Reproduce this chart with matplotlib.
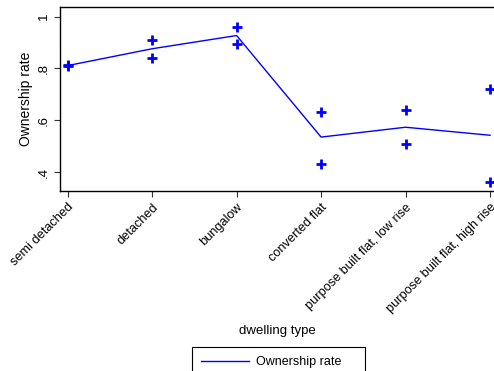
import matplotlib
matplotlib.use("Agg")
import matplotlib.pyplot as plt

dwelling = ["semi detached", "detached", "bungalow", "converted flat",
            "purpose built flat, low rise", "purpose built flat, high rise"]
ownership_rate = [0.811, 0.876, 0.927, 0.535, 0.573, 0.542]
upper_points = [0.812, 0.910, 0.959, 0.633, 0.641, 0.722]
lower_points = [0.810, 0.840, 0.894, 0.433, 0.507, 0.363]
yticks = [0.4, 0.6, 0.8, 1.0]
ytick_labels = [".4", ".6", ".8", "1"]

plt.rcParams['font.family'] = ['Liberation Sans', 'DejaVu Sans']

fig = plt.figure(figsize=(4.94, 3.71), dpi=100, facecolor='w')
ax = fig.add_axes([60 / 494, 1 - 190.7 / 371, 434 / 494, (190.7 - 7.3) / 371])

x = list(range(len(dwelling)))
ax.plot(x, ownership_rate, color='blue', linewidth=1.0, label="Ownership rate", zorder=3)
ax.plot(x, upper_points, linestyle='none', marker='+', markersize=6.5,
        markeredgewidth=2, color='blue', zorder=4)
ax.plot(x, lower_points, linestyle='none', marker='+', markersize=6.5,
        markeredgewidth=2, color='blue', zorder=4)

ax.set_xlim(-0.091, 5.047)
ax.set_ylim(0.328, 1.036)
ax.set_xticks(x)
ax.set_xticklabels(dwelling, rotation=45, ha='right', rotation_mode='anchor', fontsize=9.2)
ax.set_yticks(yticks)
ax.set_yticklabels(ytick_labels, rotation=90, va='center', fontsize=9.5)
ax.tick_params(direction='out', length=4, width=0.8, color='#333333')
for side in ['left', 'bottom', 'top']:
    ax.spines[side].set_linewidth(1.0)
ax.spines['right'].set_visible(False)

ax.set_ylabel("Ownership rate", fontsize=10, labelpad=3)
ax.set_xlabel("dwelling type", fontsize=9.5)
ax.xaxis.set_label_coords(0.5, -(325 - 190.7) / (190.7 - 7.3))

leg = fig.legend(loc='upper left', mode='expand',
                 bbox_to_anchor=(192 / 494, 0, 173 / 494, 1 - 346.5 / 371),
                 borderaxespad=0, fontsize=9, fancybox=False, edgecolor='black',
                 framealpha=1, handlelength=3.8, handletextpad=0.55, borderpad=0.75)
leg.get_frame().set_linewidth(0.8)

fig.savefig("out.png", dpi=100)
